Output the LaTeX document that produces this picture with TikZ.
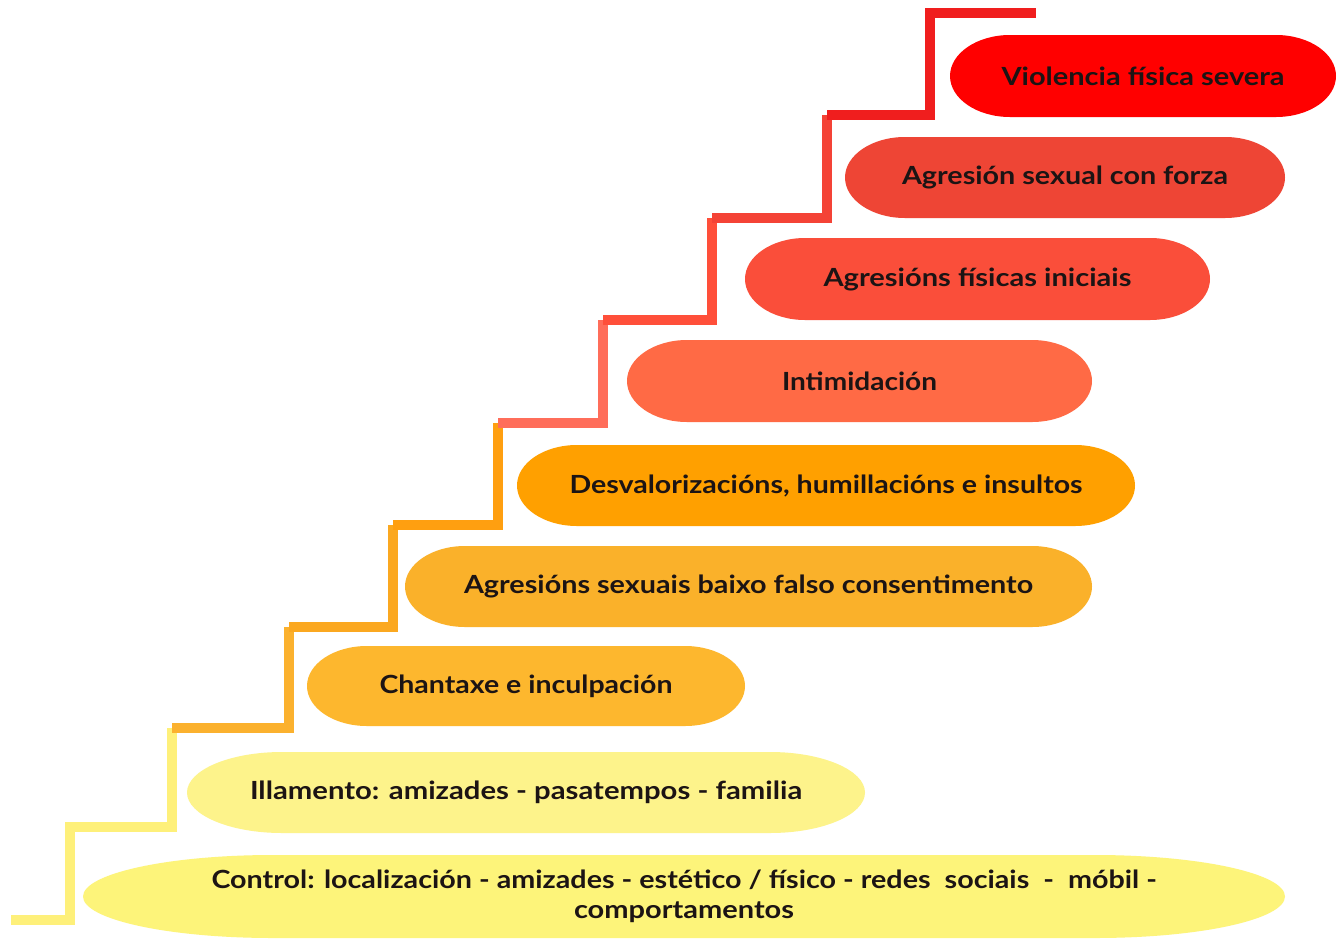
\documentclass[tikz,border=0pt]{standalone}
\usepackage{fontspec}
\setmainfont{Lato}
\definecolor{cA}{HTML}{FF0000}
\definecolor{cB}{HTML}{EE4535}
\definecolor{cC}{HTML}{FA4E3A}
\definecolor{cD}{HTML}{FF6A45}
\definecolor{cE}{HTML}{FFA000}
\definecolor{cF}{HTML}{FAB12A}
\definecolor{cG}{HTML}{FDB72E}
\definecolor{cH}{HTML}{FDF38B}
\definecolor{cI}{HTML}{FDF47A}
\definecolor{txt}{HTML}{1C1414}
\definecolor{s1}{HTML}{FEF07A}
\definecolor{s2}{HTML}{FBB12E}
\definecolor{s3}{HTML}{FBA820}
\definecolor{s4}{HTML}{FF9F10}
\definecolor{s5}{HTML}{FF6D5A}
\definecolor{s6}{HTML}{FF4F3A}
\definecolor{s7}{HTML}{F44336}
\definecolor{s8}{HTML}{F01E1E}
\newsavebox\fitbox
\newcommand\fitto[2]{%
  \sbox\fitbox{#2}%
  \pgfmathsetmacro\fitfac{#1/\the\wd\fitbox}%
  \scalebox{\fitfac}[1]{\usebox\fitbox}}
\newcommand\pill[8]{%
  \fill[#7] (#2+#6,#4) -- (#3-#6,#4)
    arc[start angle=90,end angle=-90,x radius=#6pt,y radius={(#5-#4)/2*1pt}]
    -- (#2+#6,#5)
    arc[start angle=270,end angle=90,x radius=#6pt,y radius={(#5-#4)/2*1pt}]
    -- cycle;
  \node[lbl] (#1) at ({(#2+#3)/2},{(#4+#5)/2}) {#8};
}
\tikzset{
  lbl/.style={text=txt,font=\fontsize{25}{30}\selectfont\bfseries,inner sep=0pt,align=center},
  stair/.style={line width=9.5pt,line cap=square,line join=miter}
}
\begin{document}
\begin{tikzpicture}[x=1pt,y=-1pt]
\useasboundingbox (0,0) rectangle (1339,938);
\fill[white] (0,0) rectangle (1339,938);
% stair corners
\coordinate (p0) at (11,920);
\coordinate (p1) at (70,920);
\coordinate (p2) at (70,827);
\coordinate (p3) at (172,827);
\coordinate (p4) at (172,728);
\coordinate (p5) at (289,728);
\coordinate (p6) at (289,627);
\coordinate (p7) at (393,627);
\coordinate (p8) at (393,525);
\coordinate (p9) at (498,525);
\coordinate (p10) at (498,423);
\coordinate (p11) at (603,423);
\coordinate (p12) at (603,320);
\coordinate (p13) at (712,320);
\coordinate (p14) at (712,218);
\coordinate (p15) at (827,218);
\coordinate (p16) at (827,115);
\coordinate (p17) at (930,115);
\coordinate (p18) at (930,13);
\coordinate (p19) at (1036,13);
\draw[stair,s1] (p0) -- (p1) -- (p2) -- (p3) -- (p4);
\draw[stair,s2] (p4) -- (p5) -- (p6);
\draw[stair,s3] (p6) -- (p7) -- (p8);
\draw[stair,s4] (p8) -- (p9) -- (p10);
\draw[stair,s5] (p10) -- (p11) -- (p12);
\draw[stair,s6] (p12) -- (p13) -- (p14);
\draw[stair,s7] (p14) -- (p15) -- (p16);
\draw[stair,s8] (p16) -- (p17) -- (p18) -- (p19);
% pills
\pill{n1}{950}{1336}{35}{117}{60}{cA}{\fitto{283}{Violencia física severa}}
\pill{n2}{845}{1285}{137}{218}{60}{cB}{\fitto{326}{Agresión sexual con forza}}
\pill{n3}{745}{1210}{238}{320}{60}{cC}{\fitto{308}{Agresións físicas iniciais}}
\pill{n4}{627}{1092}{340}{422}{60}{cD}{\fitto{155}{Intimidación}}
\pill{n5}{517}{1135}{445}{526}{60}{cE}{\fitto{513}{Desvalorizacións, humillacións e insultos}}
\pill{n6}{405}{1092}{546}{627}{60}{cF}{\fitto{569}{Agresións sexuais baixo falso consentimento}}
\pill{n7}{307}{745}{646}{726}{60}{cG}{\fitto{293}{Chantaxe e inculpación}}
\pill{n8}{187}{865}{752}{833}{95}{cH}{\fitto{552}{Illamento: amizades - pasatempos - familia}}
\pill{n9}{83}{1285}{855}{938}{190}{cI}{\fitto{945}{Control: localización - amizades - estético / físico - redes\ \ sociais\ \ -\ \ móbil -}\\\fitto{220}{comportamentos}}
\end{tikzpicture}
\end{document}
